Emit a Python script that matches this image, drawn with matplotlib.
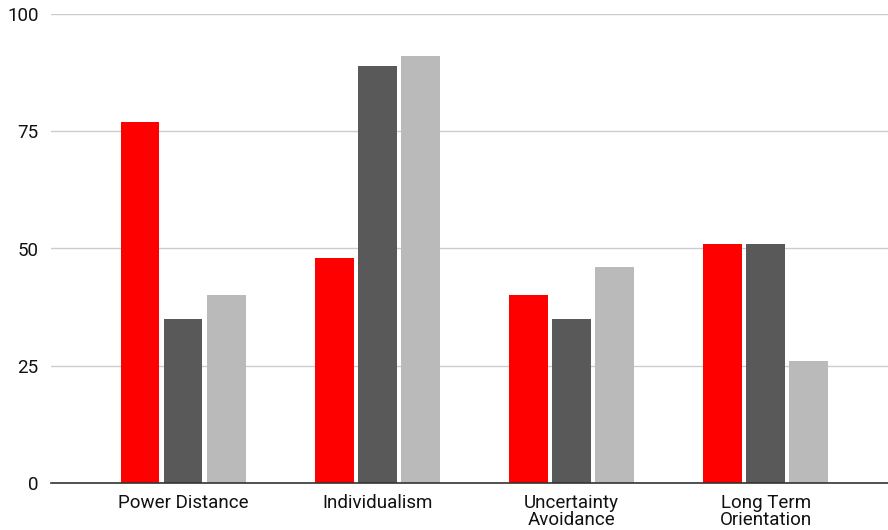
import numpy as np
import matplotlib.pyplot as plt

plt.rcParams['font.family'] = ['Roboto', 'DejaVu Sans']

categories = ['Power Distance', 'Individualism', 'Uncertainty\nAvoidance', 'Long Term\nOrientation']
series_a = [77, 48, 40, 51]
series_b = [35, 89, 35, 51]
series_c = [40, 91, 46, 26]
colors = ['#ff0000', '#595959', '#bababa']
yticks = [0, 25, 50, 75, 100]

fig = plt.figure(figsize=(8.88, 5.3), dpi=100)
ax = fig.add_axes([51 / 888, 1 - 483 / 530, 1 - 51 / 888, (483 - 14) / 530])

x = np.arange(len(categories))
w = 0.2
step = 0.222
for i, (vals, c) in enumerate(zip([series_a, series_b, series_c], colors)):
    ax.bar(x + (i - 1) * step, vals, width=w, color=c, zorder=3)

ax.set_xlim(-0.68, 3.63)
ax.set_ylim(0, 100)
ax.set_yticks(yticks)
ax.set_xticks(x)
ax.set_xticklabels(categories, fontsize=13.5, color='#111111', linespacing=0.9)
ax.tick_params(axis='y', labelsize=13.5, labelcolor='#111111', length=0, pad=9)
ax.tick_params(axis='x', length=0, pad=8)
ax.grid(axis='y', color='#cccccc', linewidth=1, zorder=0)
for s in ['top', 'right', 'left']:
    ax.spines[s].set_visible(False)
ax.spines['bottom'].set_color('#333333')
ax.spines['bottom'].set_linewidth(1.2)
ax.spines['bottom'].set_zorder(4)

fig.savefig('out.png', dpi=100)
